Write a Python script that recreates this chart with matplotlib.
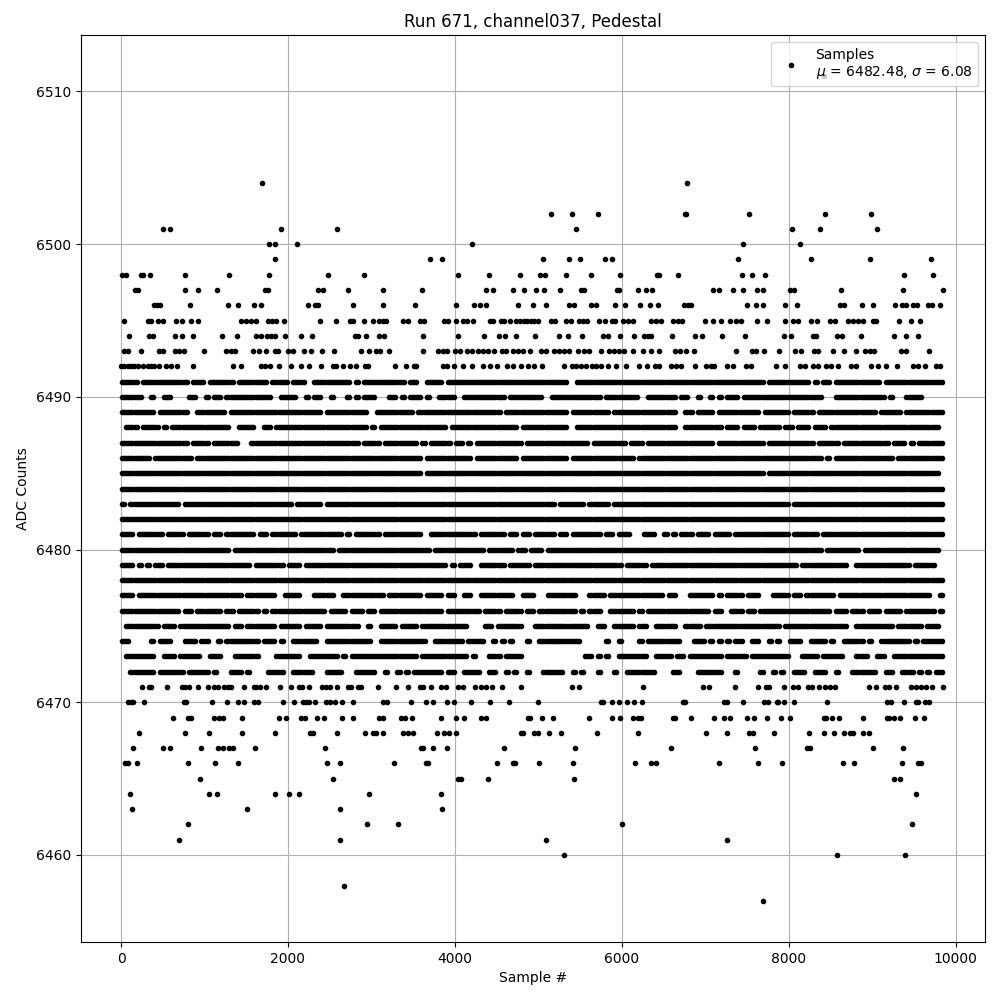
import matplotlib
matplotlib.use("Agg")
import matplotlib.pyplot as plt

TITLE = "Run 671, channel037, Pedestal"
XLABEL = "Sample #"
YLABEL = "ADC Counts"
LEGEND = "Samples\n$\\mu$ = 6482.48, $\\sigma$ = 6.08"

# Isolated samples: ADC level -> sample numbers
sparse = {
    6511: [8424],
    6504: [1685, 6778],
    6502: [5150, 5401, 5713, 6758, 6770, 7521, 8431, 8982],
    6501: [499, 583, 1912, 2583, 5449, 8036, 8371, 9054],
    6500: [1768, 1840, 2104, 4200, 7449, 8132],
    6499: [1840, 3697, 3852, 5054, 5365, 5497, 5796, 5884, 7389, 8263, 8970, 9700],
    6498: [8, 60, 240, 260, 343, 762, 1289, 1768, 2475, 2906, 4032, 4415, 4786, 5026, 5078, 5329,
           5629, 5976, 6419, 6451, 6671, 7437, 7557, 7713, 9377, 9724],
    6497: [164, 200, 762, 918, 1146, 1725, 1765, 2355, 2415, 2715, 3134, 3601, 4379, 4463, 4691, 4834,
           4970, 5066, 5257, 5513, 5553, 5940, 5972, 6192, 6287, 6359, 7090, 7162, 7329, 7449, 7617,
           7689, 8016, 8068, 8623, 9369, 9844],
    6496: [391, 427, 467, 822, 1277, 1397, 1589, 1673, 2236, 2327, 2359, 2775, 3134, 3517, 4008, 4224,
           4307, 4371, 4762, 4936, 5090, 5365, 5433, 5629, 5689, 5916, 6036, 6216, 6335, 6431, 6743,
           6790, 6826, 7497, 7605, 7689, 7952, 8096, 8611, 8659, 8874, 9006, 9270, 9353, 9405, 9485,
           9533, 9665, 9713, 9808],
    6495: [32, 319, 359, 439, 499, 655, 731, 834, 918, 1433, 1497, 1557, 1617, 1757, 1804, 1856, 1948,
           2379, 2571, 2742, 2782, 2906, 3014, 3094, 3134, 3174, 3381, 3433, 3585, 3633, 3872, 3912,
           4008, 4100, 4148, 4212, 4419, 4459, 4551, 4591, 4659, 4731, 4779, 4830, 4870, 4912, 4952,
           4992, 5152, 5204, 5332, 5392, 5492, 5532, 5580, 5724, 5796, 5880, 5924, 6012, 6072, 6132,
           6352, 6412, 6472, 6620, 6672, 6720, 7000, 7092, 7192, 7292, 7372, 7432, 7620, 7740, 7956,
           8052, 8112, 8264, 8340, 8492, 8560, 8712, 8772, 8832, 8892, 9012, 9052, 9324, 9468, 9576],
    6494: [100, 332, 380, 644, 728, 860, 1208, 1388, 1620, 1672, 1752, 1800, 1848, 1964, 2156, 2288,
           2800, 2840, 2936, 3092, 3152, 3620, 4040, 4352, 4532, 4604, 4736, 4964, 5244, 5352, 5520,
           5772, 5832, 5976, 6152, 6272, 6312, 6352, 6600, 6876, 6960, 7200, 7476, 7944, 8032, 8292,
           8332, 8580, 8640, 8864, 9264, 9408, 9552],
    6493: [40, 80, 236, 460, 500, 652, 700, 756, 988, 1260, 1312, 1368, 1580, 1652, 1740, 1840, 1880,
           2000, 2060, 2192, 2276, 2408, 2552, 2876, 2972, 3060, 3100, 3212, 3620, 3800, 3860, 3900,
           4000, 4060, 4140, 4208, 4280, 4340, 4400, 4472, 4560, 4612, 4700, 4760, 4812, 4904, 5032,
           5092, 5192, 5252, 5312, 5364, 5472, 5552, 5612, 5748, 5852, 5912, 5972, 6032, 6132, 6260,
           6352, 6444, 6640, 6700, 6764, 6864, 7368, 7564, 7612, 7704, 7884, 8076, 8144, 8300, 8352,
           8536, 8664, 8804, 8912, 8972, 9020, 9352, 9412, 9684],
    6492: [0, 40, 80, 120, 160, 200, 260, 320, 360, 400, 450, 540, 600, 668, 860, 1340, 1436, 1680,
           1720, 1780, 1892, 2036, 2156, 2252, 2396, 2540, 2580, 2660, 2740, 2820, 2920, 2960, 3284,
           3416, 3508, 3540, 3860, 3900, 3988, 4092, 4208, 4340, 4420, 4500, 4620, 4700, 4788, 4880,
           4952, 5040, 5304, 5404, 5452, 5512, 5572, 5644, 5692, 5752, 5832, 5932, 6056, 6204, 6304,
           6404, 6452, 6592, 6652, 6712, 6880, 7012, 7072, 7104, 7260, 7332, 7492, 7552, 7852, 7956,
           8132, 8192, 8292, 8352, 8452, 8512, 8592, 8744, 8804, 8992, 9072, 9172, 9300, 9492, 9552,
           9632, 9764, 9812],
    6471: [248, 332, 359, 547, 727, 762, 810, 918, 1038, 1110, 1158, 1238, 1277, 1317, 1469, 1589, 1617,
           1669, 1737, 1900, 2032, 2128, 2168, 2248, 2403, 2455, 2503, 2583, 2715, 2755, 2834, 2874,
           3082, 3289, 3433, 3581, 3621, 3720, 3832, 3892, 4032, 4092, 4236, 4319, 4371, 4451, 4571,
           4798, 5401, 5485, 6251, 6970, 7050, 7353, 7629, 7729, 7761, 7940, 8048, 8108, 8228, 8280,
           8367, 8439, 8499, 8559, 8958, 9046, 9154, 9206, 9285, 9465, 9525, 9585, 9645, 9713, 9844],
    6470: [80, 120, 140, 271, 758, 778, 1086, 1265, 1397, 1469, 1597, 1637, 1936, 2068, 2176, 2216, 2256,
           2319, 2455, 2507, 2563, 2647, 2774, 3134, 3182, 3469, 3649, 3744, 3900, 3984, 4188, 4427,
           4651, 4994, 5752, 5780, 5880, 5964, 6060, 6144, 6240, 6731, 6755, 7229, 7257, 7449, 7701,
           7749, 7856, 7876, 7940, 8060, 8455, 9174, 9226, 9377, 9525, 9549, 9633, 9685],
    6469: [619, 798, 838, 1110, 1170, 1225, 1445, 1888, 1972, 2152, 2208, 2343, 2427, 2643, 2774, 3094,
           3134, 3353, 3405, 3481, 3840, 4008, 4104, 4308, 4379, 4882, 4906, 5042, 5174, 5605, 5880,
           5976, 6132, 6192, 6232, 6611, 6639, 6826, 7102, 7221, 7293, 7497, 7581, 7737, 7904, 8012,
           8419, 8447, 8519, 8599, 8886, 9174, 9206, 9257, 9329, 9509, 9617],
    6468: [212, 762, 1050, 1445, 1840, 2263, 2295, 2583, 2918, 3022, 3054, 3134, 3373, 3433, 3493, 3792,
           3864, 3924, 4008, 4790, 4818, 4954, 4994, 5126, 5269, 5701, 6192, 7006, 7257, 7521, 7577,
           7820, 8240, 8419, 8539, 8659, 8739, 8767, 8886, 8958],
    6467: [140, 499, 583, 954, 1158, 1218, 1297, 1345, 1601, 2439, 3593, 3613, 3744, 3900, 4583, 5437,
           6587, 7593, 8224, 8252, 9006, 9365],
    6466: [52, 84, 188, 798, 1122, 1397, 2463, 2619, 3265, 3653, 3681, 4511, 4691, 4723, 5006, 5413, 6156,
           6355, 6411, 7162, 7629, 7916, 8647, 8778, 9353, 9545, 9585],
    6465: [942, 2535, 4032, 4072, 4403, 5425, 9257, 9333],
    6464: [104, 1050, 1146, 1840, 2008, 2128, 2966, 3840, 9521],
    6463: [128, 1505, 2619, 3852],
    6462: [798, 2942, 3313, 6000, 9473],
    6461: [691, 2619, 5090, 7257],
    6460: [5305, 8575, 9389],
    6458: [2667],
    6457: [7689],
}

# Denser rows, read as occupancy: each character is one 50-sample stretch of the row, 1 = dots seen there
BIN = 50
occupancy = {
    6491: "1111011111 1111110111 0111111011 1111101111 0111001111 1111101011 1111111101 1001111011 1111111111 1111111111 1111111001 1111111111 1111111111 1111111111 1111111111 1111011111 1111101011 0111111111 1101111111 1111111",
    6490: "1111100100 1100001100 1011011111 1111110011 1100101100 1000101011 1000110101 1101001111 0011111111 1101111111 1001111111 1111101111 1111001111 1110110010 0101011101 1111111111 1111111100 0111111111 1110100011 1100000",
    6489: "1111111101 1111110011 1111101111 1111111111 1111111101 1111111110 0111111111 0111111111 1111111111 1011111111 1111111011 1111111011 1111111111 1110011011 1101111111 1110111111 0111110111 1111111111 1011111011 1111111",
    6488: "0111011110 1011111111 1111110011 1100110111 1111111111 1111111110 1011111111 1111111101 1111111111 1111101111 1111111001 1111111111 1111111111 1110011111 1111011101 1101111101 1011101110 1111111111 1111111111 1111110",
    6487: "1111111111 1111110111 1011111100 0111111111 1111111111 1111111011 1101111111 1010111110 1101011111 1111110111 1111111111 1101111111 1011101111 1111111111 1101111111 1111011111 1111110111 1101111111 1111011101 0111111",
    6486: "1111111011 1111111011 1111111111 1111111111 1111111111 1111111111 1111111111 1101111111 1111011111 1111101111 1111111011 1111111111 1110111111 1111111111 1111111111 1111111111 1111111101 0111111111 1111101111 1111111",
    6485: "1111111111 1111111111 1111111111 1111111111 1111111111 1111111111 1111111111 1101111111 1111111111 1111111111 1111111111 1111111111 1111111111 1111111111 1111111111 1111011111 1111111111 1111111111 1111111111 1111110",
    6484: "1111111111 1111111111 1111111111 1111111111 1111111111 1111111111 1111111111 1111111111 1111111111 1111111111 1111111111 1111111111 1111111111 1111111111 1111111111 1111111111 1111111111 1111111111 1111111111 1111111",
    6483: "1011111111 1111011111 1111111111 1111111111 1011111101 1111111111 1111111111 1111111111 1111111111 1111111111 1111011111 1011111011 1111111111 1111111111 1111111111 1111111111 0111111111 1111111111 1111111111 1111111",
    6482: "1111111111 1111111111 1111111111 1111111111 1111111111 1111111111 1111111111 1111111111 1111111111 1111111111 1111111111 1111111111 1111111111 1111111111 1111111111 1111111111 1111111111 1111111111 1111111111 1111111",
    6481: "1110111111 0111101111 1011011111 1101101111 1101111111 1110101111 1101111111 1100111111 1111101111 1101101101 1111011011 1111101101 1100011100 1010111011 1011110111 1111111111 0111111011 1111111111 1111111111 1111111",
    6480: "1111111111 1111111111 1111110111 1111111111 1111111111 1011111111 1111111111 1111011111 1111111011 1111011011 1011111111 1111111111 1111111111 1111111111 1111111111 1111111111 1111111101 1111111011 1111111111 1111110",
    6479: "1110101011 0111111111 1111111111 1011111110 1110111111 1111111111 1111111111 1111111101 0111001111 1101111101 1111111111 1111111111 0111110111 1111111111 1111111111 1111111111 1101111111 1111001111 1111111110 1111100",
    6478: "1111111111 1111111111 1111111111 1111111111 1111111111 1111111111 1111111111 1111111111 1111111111 1111111111 1111111111 1111111111 1111111111 1111111111 1111111111 1111111111 1111111111 1111111111 1111111111 1111111",
    6477: "1110111111 1111111111 1111111110 1111111001 1110001111 1001111111 1110111111 1101111011 0011001111 1111001110 0011111110 0011110111 1111111111 0110001111 1101011110 1110001111 0110111111 1011111111 1111111111 1111001",
    6476: "1111111111 1111011011 1111011011 1110101111 1111111110 1111011101 1011111111 1111111011 1111110111 1011110110 1111111110 1011100111 1110101111 1111111111 1011001110 1101111111 1111111111 0111011101 1101111011 1111101",
    6475: "0111111110 1110111111 1111110110 1111111011 1110111101 1111111001 0011110111 1011111111 1110000110 1111110001 1111111111 1100110011 1110110011 1110011110 1111111111 1111111101 1111111111 1111001111 1111101111 1101110",
    6474: "1100000101 1100011101 1001011111 1110111010 0111111001 1111111111 0011111111 1110011111 1101111001 0101000100 1111111111 0000001001 0000101111 1111000111 0101010110 0110010100 1110011110 1001111101 0011111110 1011111",
    6473: "0111111100 1110111110 0111000111 1110000111 1110011111 1101011111 1111111111 1011111111 1110100011 1011110000 0000000000 0110101001 1111110011 1101101111 1111011111 0111111111 0001111011 1110001110 0110011111 1111111",
    6472: "0011111101 1111101111 1010001110 1000011110 0111110001 1110001111 1001001010 1111111011 0011110011 0010100100 0111110010 1000100010 0111111100 0011000011 1111000100 0001001010 0111001110 0100011111 1001100111 0101011",
}

xs, ys = [], []
for level, samples in sparse.items():
    xs.extend(samples)
    ys.extend([level] * len(samples))
for level, row in occupancy.items():
    for i, flag in enumerate(row.replace(" ", "")):
        if flag == "1":
            # two dots per occupied stretch, so that runs read as solid as in the reference
            xs.extend([i * BIN + BIN // 4, i * BIN + 3 * BIN // 4])
            ys.extend([level, level])

fig, ax = plt.subplots(figsize=(10, 10), dpi=100)
ax.plot(xs, ys, "k.", label=LEGEND)
ax.set_xlim(-480, 10353)
ax.set_ylim(6454.3, 6513.7)
ax.set_xticks(range(0, 10001, 2000))
ax.set_yticks(range(6460, 6511, 10))
ax.grid(True)
ax.set_title(TITLE)
ax.set_xlabel(XLABEL)
ax.set_ylabel(YLABEL)
ax.legend(loc="upper right")
fig.subplots_adjust(left=0.081, right=0.985, top=0.965, bottom=0.058)
fig.savefig("out.png", dpi=100)
